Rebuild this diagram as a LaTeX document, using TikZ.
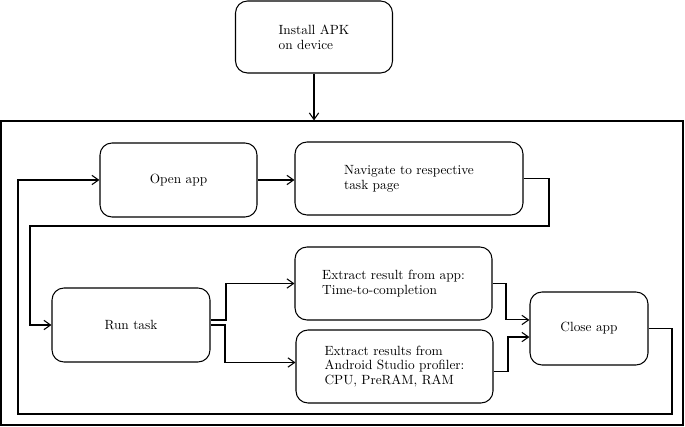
\documentclass[tikz,border=0pt]{standalone}
\usetikzlibrary{arrows.meta}
\begin{document}
\begin{tikzpicture}[x=0.75pt,y=-0.75pt,
  box/.style={draw, line width=0.8pt, rounded corners=9pt, align=left, font=\fontsize{10}{11}\selectfont},
  arr/.style={line width=0.8pt, -{Straight Barb[length=5pt,width=7pt]}},
  ln/.style={line width=0.8pt}]
\useasboundingbox (0,0) rectangle (685,427);
\node[draw, line width=0.8pt, minimum width=511.5pt, minimum height=228pt, inner sep=0pt] (frame) at (342,273) {};
\node[box, minimum width=117.75pt, minimum height=54pt] (install) at (314,37) {Install APK\\on device};
\node[box, minimum width=117.75pt, minimum height=55.5pt] (open) at (178.5,180) {Open app};
\node[box, minimum width=171pt, minimum height=54.75pt] (nav) at (409,178.5) {Navigate to respective\\task page};
\node[box, minimum width=118.5pt, minimum height=55.5pt] (run) at (131,325) {Run task};
\node[box, minimum width=147.75pt, minimum height=54.75pt] (ext1) at (393.5,283.5) {Extract result from app:\\Time-to-completion};
\node[box, minimum width=147.75pt, minimum height=54.75pt] (ext2) at (394.5,366.5) {Extract results from\\Android Studio profiler:\\CPU, PreRAM, RAM};
\node[box, minimum width=88.5pt, minimum height=54.75pt] (close) at (589,328.5) {Close app};

\draw[arr] (install.south) -- (install.south |- frame.north);
\draw[arr] (open.east) -- (open.east -| nav.west);
\draw[arr] (nav.east) -- (549,178.5) -- (549,226) -- (30,226) |- (run.west);
\draw[arr] ([yshift=3.75pt]run.east) -- (226,320) |- (ext1.west);
\draw[arr] (run.east) -- (225,325) |- ([yshift=3pt]ext2.west);
\draw[arr] (ext1.east) -- (506,283.5) |- ([yshift=6.4pt]close.west);
\draw[arr] ([yshift=-3.75pt]ext2.east) -- (508,371.5) |- ([yshift=-6.4pt]close.west);
\draw[arr] (close.east) -- (672,328.5) -- (672,414) -- (18,414) |- (open.west);
\end{tikzpicture}
\end{document}
